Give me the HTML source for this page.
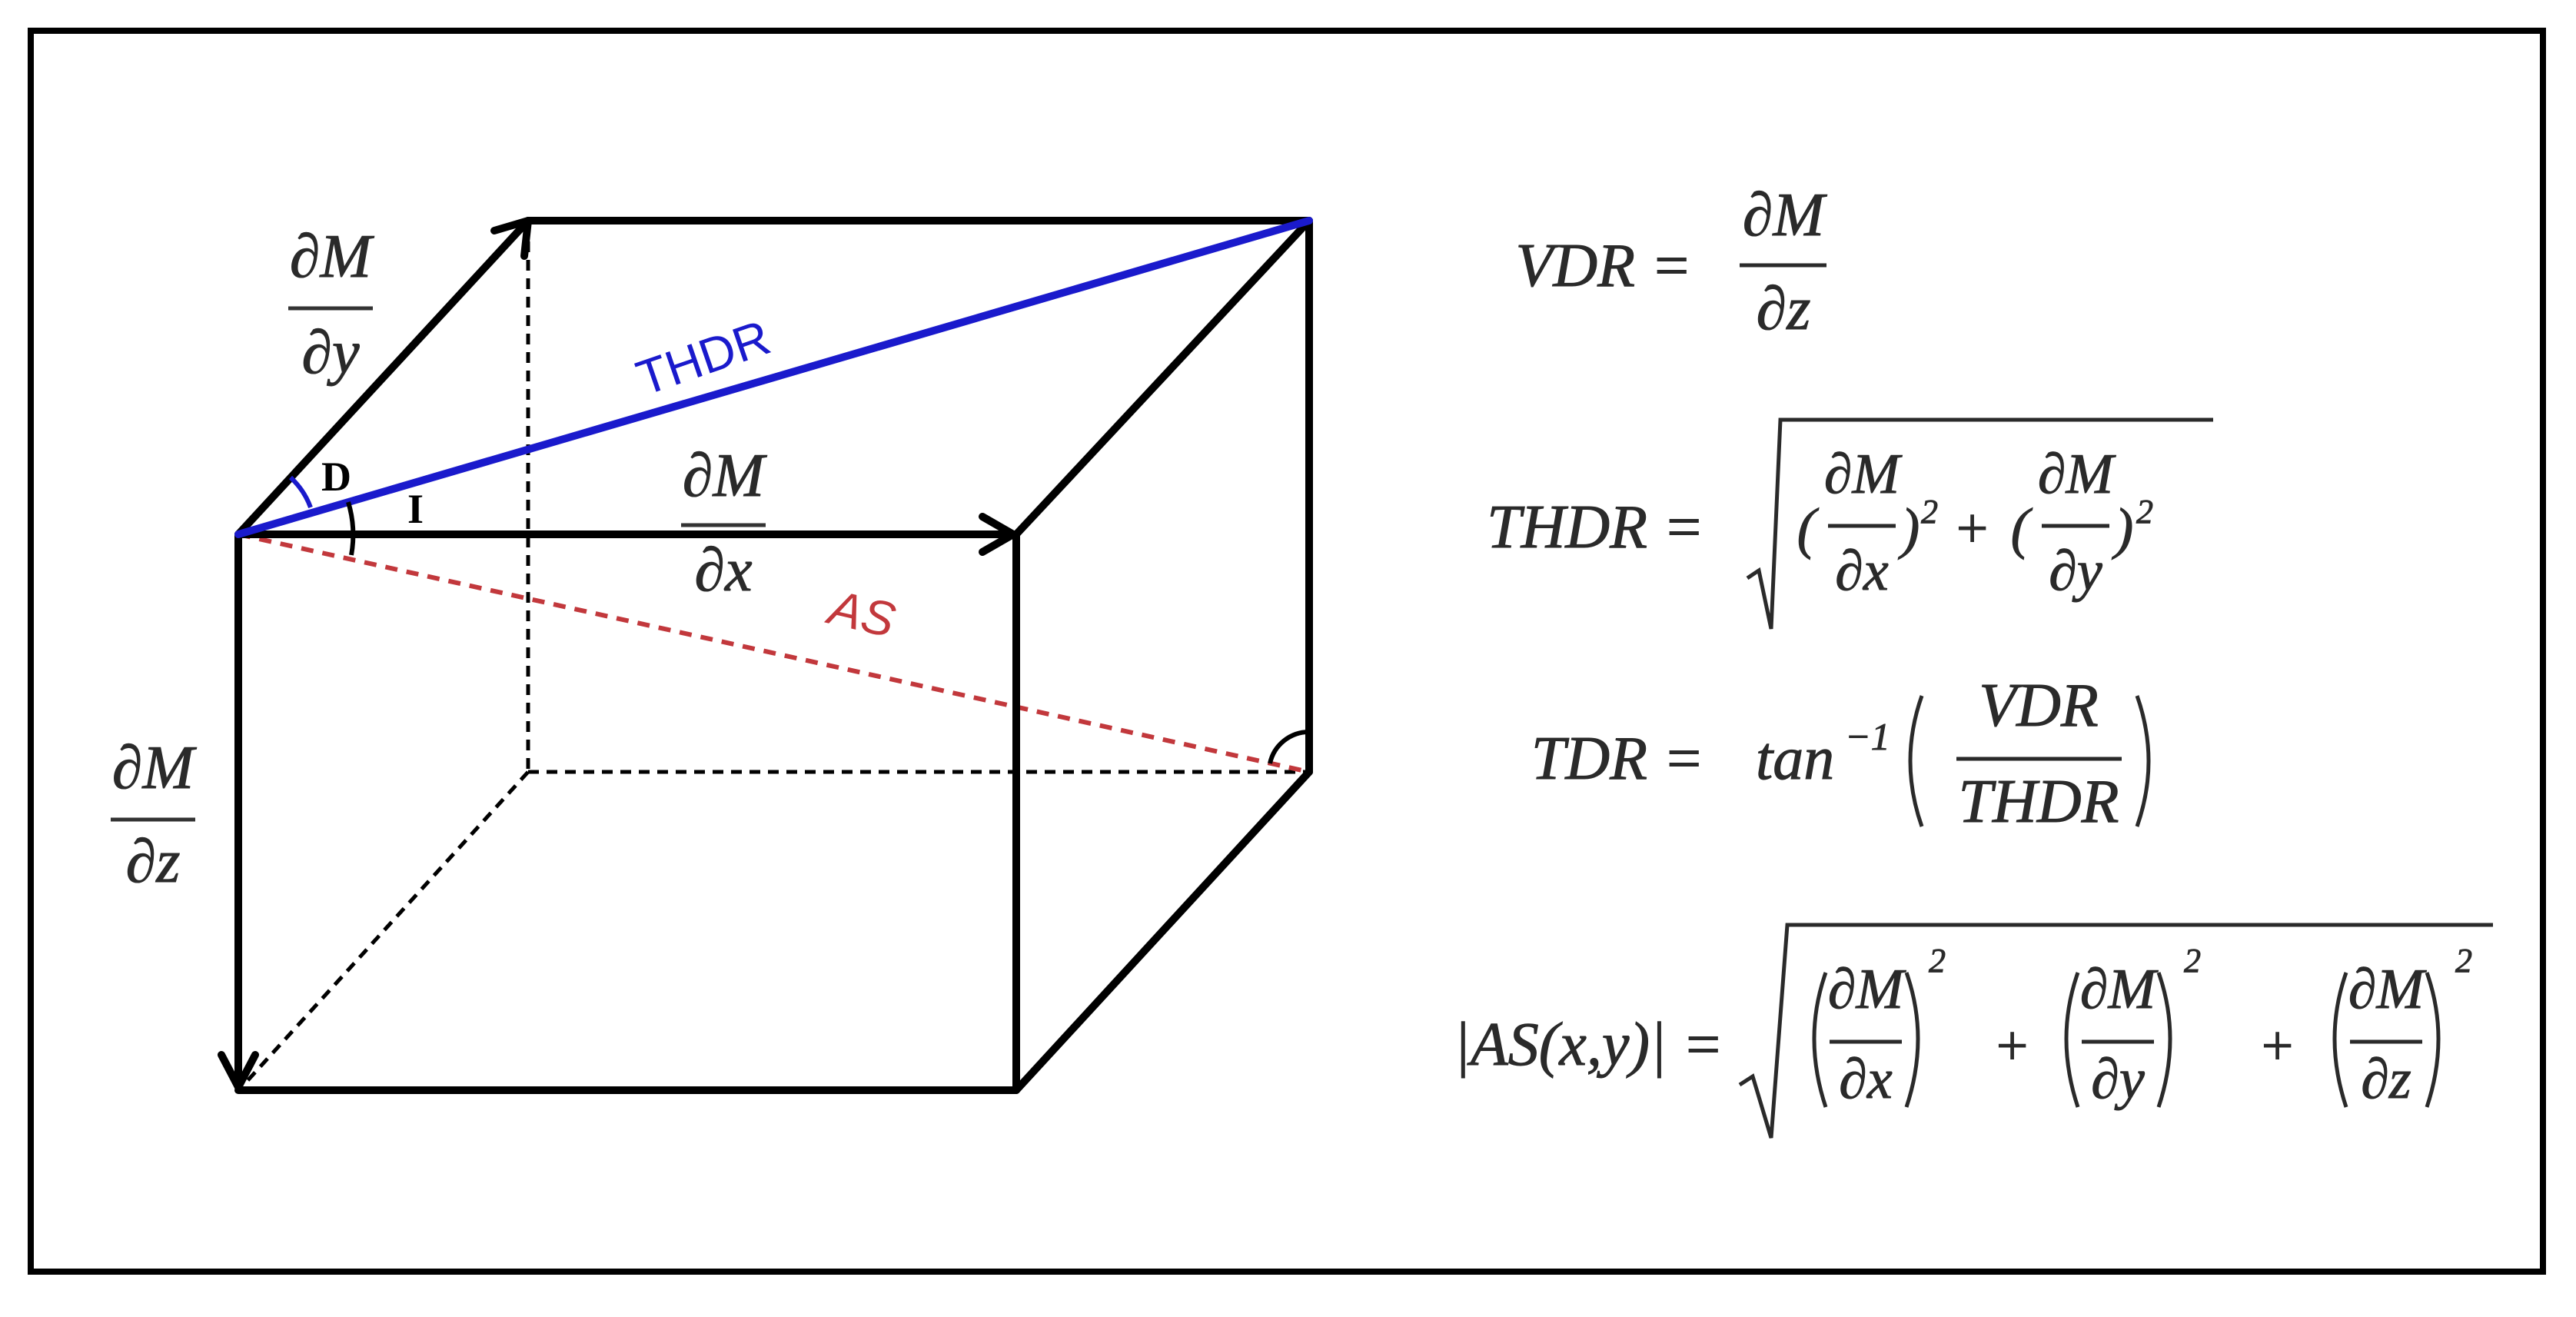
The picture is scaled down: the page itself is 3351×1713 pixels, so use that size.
<!DOCTYPE html>
<html><head><meta charset="utf-8"><style>
html,body{margin:0;padding:0;background:#fff}
svg{display:block}
.m{font-family:"Liberation Serif",serif;font-style:italic;fill:#2a2a2a;stroke:#2a2a2a;stroke-width:1}
</style></head><body>
<svg width="3351" height="1713" viewBox="0 0 3351 1713" xmlns="http://www.w3.org/2000/svg">
<rect x="0" y="0" width="3351" height="1713" fill="#fff"/>
<rect x="40" y="40" width="3268" height="1614" fill="none" stroke="#000" stroke-width="8"/>

<g stroke="#000" stroke-width="5" stroke-dasharray="14,10" fill="none">
<line x1="687" y1="290" x2="687" y2="1004"/>
<line x1="687" y1="1004" x2="1703" y2="1004"/>
<line x1="687" y1="1004" x2="318" y2="1410"/>
</g>
<line x1="310" y1="695" x2="1703" y2="1004" stroke="#c2383c" stroke-width="6" stroke-dasharray="16,12"/>

<g stroke="#000" stroke-width="10" fill="none" stroke-linecap="round" stroke-linejoin="round">
<line x1="687" y1="287" x2="1703" y2="287"/>
<line x1="1703" y1="287" x2="1703" y2="1004"/>
<line x1="1703" y1="287" x2="1322" y2="695"/>
<line x1="1703" y1="1004" x2="1322" y2="1418"/>
<line x1="1322" y1="695" x2="1322" y2="1418"/>
<line x1="310" y1="1418" x2="1322" y2="1418"/>
<line x1="310" y1="695" x2="687" y2="287"/>
<polyline points="643,300 687,287 682,333"/>
<line x1="310" y1="695" x2="1318" y2="695"/>
<polyline points="1278,672 1318,695 1278,718"/>
<line x1="310" y1="695" x2="310" y2="1414"/>
<polyline points="288,1372 310,1414 332,1372"/>
</g>

<line x1="310" y1="695" x2="1703" y2="287" stroke="#1a1acc" stroke-width="10" stroke-linecap="round"/>

<path d="M 453 653 A 148 148 0 0 1 457 722" stroke="#000" stroke-width="6" fill="none"/>
<path d="M 378 621 A 100 100 0 0 1 404 660" stroke="#1a1acc" stroke-width="6" fill="none"/>
<path d="M 1652 993 A 52 52 0 0 1 1703 952" stroke="#000" stroke-width="6" fill="none"/>

<text x="418" y="638" font-family="Liberation Serif,serif" font-weight="bold" font-size="54" fill="#000">D</text>
<text x="530" y="680" font-family="Liberation Serif,serif" font-weight="bold" font-size="54" fill="#000">I</text>

<text transform="translate(838,515) rotate(-19)" font-family="Liberation Sans,sans-serif" font-size="64" fill="#1a1acc">THDR</text>
<text transform="translate(1075,810) rotate(13)" font-family="Liberation Sans,sans-serif" font-style="italic" font-size="64" fill="#c2383c">AS</text>

<g class="m" font-size="80" text-anchor="middle">
<text x="430" y="360">∂M</text>
<text x="430" y="485">∂y</text>
<text x="941" y="645">∂M</text>
<text x="941" y="768">∂x</text>
<text x="199" y="1025">∂M</text>
<text x="199" y="1147">∂z</text>
</g>
<g stroke="#333" stroke-width="5">
<line x1="375" y1="401" x2="485" y2="401"/>
<line x1="886" y1="683" x2="996" y2="683"/>
<line x1="144" y1="1066" x2="254" y2="1066"/>
</g>

<g class="m" font-size="80">
<text x="2201" y="372" text-anchor="end">VDR =</text>
<text x="2320" y="306" text-anchor="middle">∂M</text>
<text x="2320" y="428" text-anchor="middle">∂z</text>

<text x="2217" y="712" text-anchor="end">THDR =</text>
<text x="2217" y="1013" text-anchor="end">TDR =</text>
<text x="2284" y="1013">tan</text>
<text x="2400" y="975" font-size="50">−1</text>
<text x="2652" y="944" text-anchor="middle">VDR</text>
<text x="2652" y="1069" text-anchor="middle">THDR</text>

<text x="2242" y="1385" text-anchor="end">|AS(x,y)| =</text>
</g>
<g stroke="#2a2a2a" stroke-width="5" fill="none">
<line x1="2263" y1="345" x2="2376" y2="345"/>
<line x1="2545" y1="987" x2="2760" y2="987"/>
<path d="M 2500 905 Q 2470 990 2500 1075"/>
<path d="M 2780 905 Q 2810 990 2780 1075"/>
<polyline points="2273,752 2288,742 2304,818 2316,546 2879,546"/>
<polyline points="2263,1411 2280,1400 2304,1480 2325,1203 3243,1203"/>
<line x1="2378" y1="684" x2="2466" y2="684"/>
<line x1="2656" y1="684" x2="2744" y2="684"/>
<line x1="2380" y1="1355" x2="2474" y2="1355"/>
<line x1="2708" y1="1355" x2="2802" y2="1355"/>
<line x1="3057" y1="1355" x2="3151" y2="1355"/>
<path d="M 2375 1265 Q 2345 1350 2375 1440"/>
<path d="M 2480 1265 Q 2510 1350 2480 1440"/>
<path d="M 2703 1265 Q 2673 1350 2703 1440"/>
<path d="M 2808 1265 Q 2838 1350 2808 1440"/>
<path d="M 3052 1265 Q 3022 1350 3052 1440"/>
<path d="M 3157 1265 Q 3187 1350 3157 1440"/>
</g>
<g class="m" font-size="74" text-anchor="middle">
<text x="2350" y="712">(</text>
<text x="2422" y="641">∂M</text>
<text x="2422" y="767">∂x</text>
<text x="2485" y="712">)</text>
<text x="2510" y="680" font-size="44">2</text>
<text x="2565" y="712">+</text>
<text x="2628" y="712">(</text>
<text x="2700" y="641">∂M</text>
<text x="2700" y="767">∂y</text>
<text x="2763" y="712">)</text>
<text x="2790" y="680" font-size="44">2</text>

<text x="2427" y="1311">∂M</text>
<text x="2427" y="1428">∂x</text>
<text x="2520" y="1264" font-size="44">2</text>
<text x="2617" y="1385">+</text>
<text x="2755" y="1311">∂M</text>
<text x="2755" y="1428">∂y</text>
<text x="2852" y="1264" font-size="44">2</text>
<text x="2962" y="1385">+</text>
<text x="3104" y="1311">∂M</text>
<text x="3104" y="1428">∂z</text>
<text x="3205" y="1264" font-size="44">2</text>
</g>
</svg>
</body></html>
